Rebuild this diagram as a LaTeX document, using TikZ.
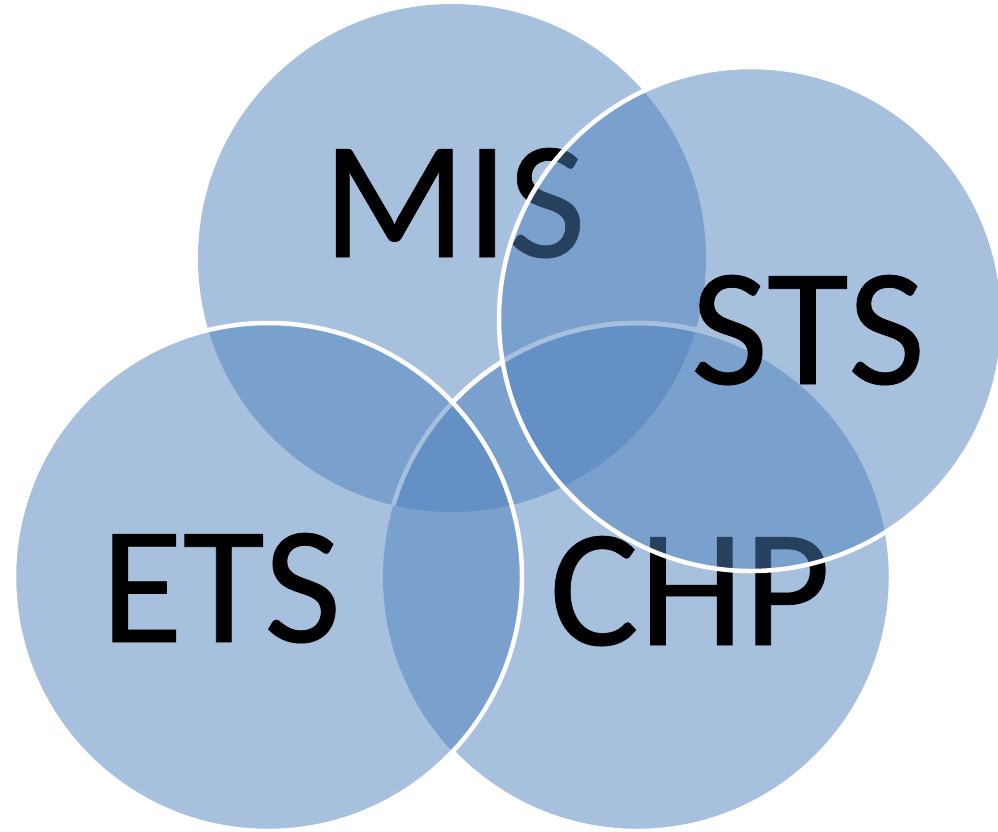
\documentclass[tikz,border=0pt]{standalone}
\usepackage{fontspec}
\setmainfont{Carlito}[FakeBold=0.4]
\definecolor{vennblue}{HTML}{4F81BD}
\begin{document}
\begin{tikzpicture}[x=1pt,y=-1pt,
  vfill/.style={fill=vennblue,fill opacity=0.5,draw=none},
  vline/.style={draw=white,line width=4.5pt},
  vlabel/.style={inner sep=0pt,anchor=base,text=black,font=\fontsize{168}{168}\selectfont}]
\useasboundingbox (0,0) rectangle (998,831);
\coordinate (cMIS) at (452,258);
\coordinate (cSTS) at (751,319);
\coordinate (cETS) at (268,577);
\coordinate (cCHP) at (637,577);
% MIS
\path[vfill] (cMIS) circle (254);
% CHP
\path[vfill] (cCHP) circle (254);
\begin{scope}[even odd rule]
  \clip (-10,-10) rectangle (1010,850) (cETS) circle (254);
  \path[vline] (cCHP) circle (254);
\end{scope}
\begin{scope}
  \clip (cMIS) circle (254);
  \path[vline] (cCHP) circle (254);
\end{scope}
% ETS
\path[vfill] (cETS) circle (254);
\path[vline] (cETS) circle (254);
% labels below STS
\node[vlabel] (tMIS) at (454,257) {MIS};
\node[vlabel] (tETS) at (221,642) {ETS};
\node[vlabel] (tCHP) at (690,645) {CHP};
% STS
\path[vfill] (cSTS) circle (252);
\path[vline] (cSTS) circle (252);
\node[vlabel] (tSTS) at (808,384) {STS};
\end{tikzpicture}
\end{document}
